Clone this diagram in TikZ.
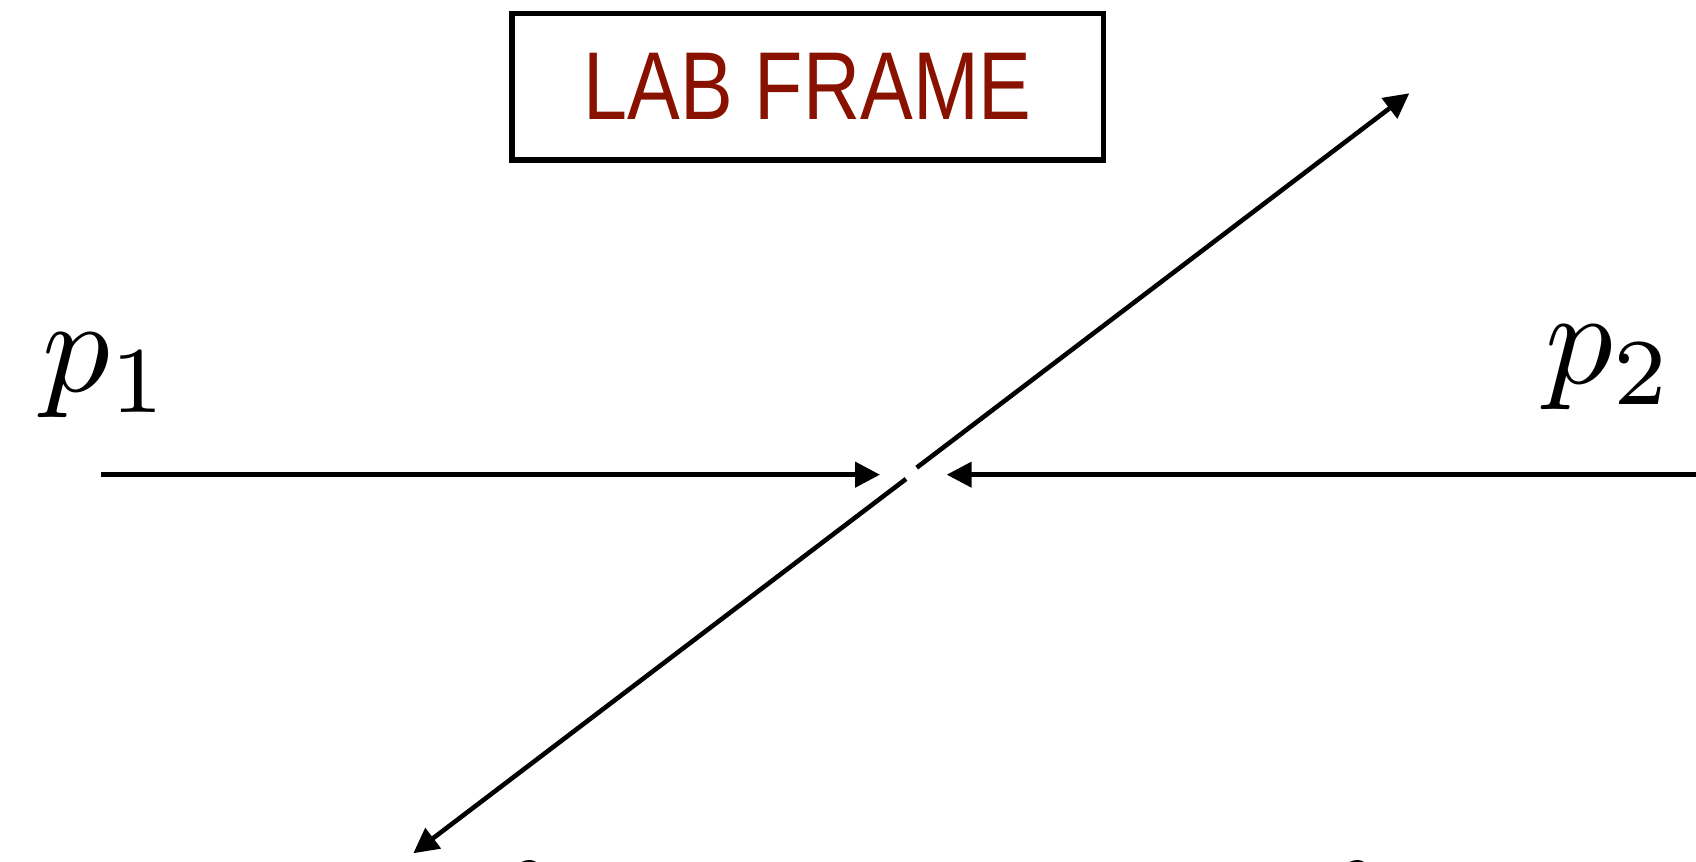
\documentclass[tikz,border=0pt]{standalone}
\usepackage{fontspec}
\newfontfamily\labfont[FakeStretch=0.82]{Liberation Sans}
\usetikzlibrary{arrows.meta}
\definecolor{labred}{RGB}{136,17,0}
\begin{document}
\begin{tikzpicture}[x=0.25pt,y=-0.25pt,line width=1.15pt,
  arr/.style={-{Triangle[length=6.25pt,width=6.25pt]}},
  lbl/.style={inner sep=0pt,scale=3.37},
  titlebox/.style={draw,line width=1.35pt,minimum width=147.8pt,minimum height=36.7pt,inner sep=0pt,
    text=labred,font=\labfont\fontsize{24.1}{29}\selectfont}]
\useasboundingbox (0,0) rectangle (1696,862);
\node[titlebox] (title) at (807.7,86.7) {\raisebox{-0.7pt}{LAB FRAME}};
\node[lbl] (p1) at (107,376) {$p_1$};
\node[lbl] (p2) at (1610,368) {$p_2$};
\node[lbl,anchor=north] (t3) at (518,854) {$\theta$};
\node[lbl,anchor=north] (t4) at (1346,854) {$\theta$};
\coordinate (a1) at (101,474.7);
\coordinate (a1t) at (880,474.7);
\coordinate (a2) at (1700,474.7);
\coordinate (a2t) at (946.7,474.7);
\coordinate (d1) at (916.7,467.7);
\coordinate (d1t) at (1409.3,93.3);
\coordinate (d2) at (906,479);
\coordinate (d2t) at (413.3,853.3);
\draw[arr] (a1) -- (a1t);
\draw[arr] (a2) -- (a2t);
\draw[arr] (d1) -- (d1t);
\draw[arr] (d2) -- (d2t);
\end{tikzpicture}
\end{document}
